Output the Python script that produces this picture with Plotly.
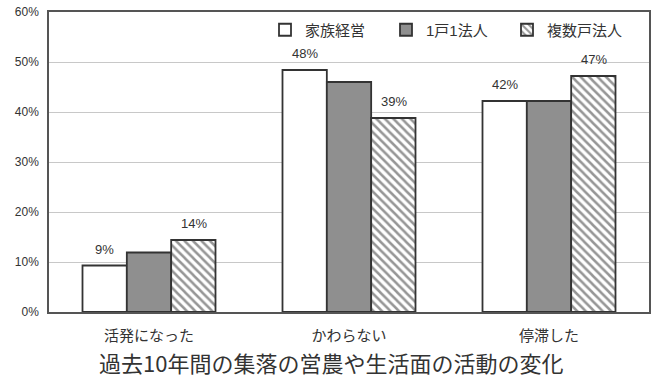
import plotly.graph_objects as go

categories = ["活発になった", "かわらない", "停滞した"]
series_names = ["家族経営", "1戸1法人", "複数戸法人"]
family = [9.3, 48.4, 42.2]
one_house = [11.9, 46.0, 42.2]
multi_house = [14.4, 38.8, 47.2]
show_labels = [True, False, True]
y_ticks = [0, 10, 20, 30, 40, 50, 60]
x_title = "過去10年間の集落の営農や生活面の活動の変化"

FONT = "Liberation Sans, Noto Sans CJK JP, sans-serif"
OUTLINE = dict(color="#333333", width=1.8)
BAR_PX = 44.5  # pixel offset of outer bars within a group

fig = go.Figure()
styles = [
    dict(color="white"),
    dict(color="#8f8f8f"),
    dict(color="white", pattern=dict(shape="\\", fgcolor="#2e2e2e", bgcolor="white",
                                     size=6, solidity=0.42)),
]
all_vals = [family, one_house, multi_house]
for name, vals, st in zip(series_names, all_vals, styles):
    fig.add_trace(go.Bar(
        name=name, x=categories, y=vals,
        marker=dict(line=OUTLINE, **st),
    ))

for i, (vals, lab) in enumerate(zip(all_vals, show_labels)):
    if not lab:
        continue
    for c, v in zip(categories, vals):
        fig.add_annotation(x=c, y=v, text=f"{round(v)}%", showarrow=False,
                           xanchor="center", yanchor="bottom",
                           xshift=(i - 1) * BAR_PX, yshift=7,
                           font=dict(family=FONT, size=13, color="#333333"))

fig.add_annotation(xref="paper", yref="paper", x=0.47, y=-0.167,
                   xanchor="center", yanchor="middle", showarrow=False,
                   text=x_title,
                   font=dict(size=22, family="Noto Sans CJK JP", color="#333333"))

fig.update_layout(
    width=654, height=379,
    margin=dict(l=49, r=3, t=12, b=67),
    paper_bgcolor="white", plot_bgcolor="white",
    barmode="group", bargap=0.335, bargroupgap=0,
    font=dict(family=FONT, color="#333333"),
    showlegend=True,
    legend=dict(orientation="h", x=0.36, y=0.94, xanchor="left", yanchor="middle",
                bgcolor="rgba(0,0,0,0)", font=dict(size=15, family=FONT, color="#333333"),
                entrywidth=76, entrywidthmode="pixels", itemwidth=30, traceorder="normal"),
    xaxis=dict(showline=True, linecolor="#555555", linewidth=1.5, mirror=True,
               ticks="", ticklabelstandoff=9,
               tickfont=dict(size=15, family=FONT, color="#333333")),
    yaxis=dict(range=[0, 60], tickvals=y_ticks, ticktext=[f"{t}%" for t in y_ticks],
               showline=True, linecolor="#555555", linewidth=1.5, mirror=True,
               gridcolor="#c8c8c8", gridwidth=1, zeroline=False, ticks="",
               ticklabelstandoff=6,
               tickfont=dict(size=12, family=FONT, color="#333333")),
)

fig.write_html("out.html")
